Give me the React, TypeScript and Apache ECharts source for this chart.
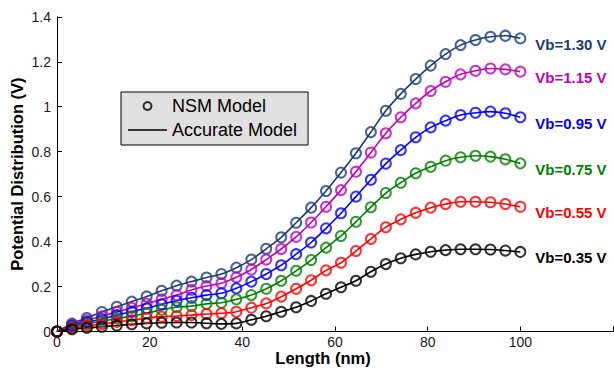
import React, { useEffect, useRef } from "react";
import * as echarts from "echarts";

const lengthNm = [
  0, 3.23, 6.45, 9.68, 12.9, 16.13, 19.35, 22.58, 25.81, 29.03, 32.26, 35.48,
  38.71, 41.94, 45.16, 48.39, 51.61, 54.84, 58.06, 61.29, 64.52, 67.74, 70.97,
  74.19, 77.42, 80.65, 83.87, 87.1, 90.32, 93.55, 96.77, 100,
];

const vb130 = [
  0, 0.035, 0.06, 0.087, 0.11, 0.133, 0.156, 0.181, 0.204, 0.222, 0.24, 0.256,
  0.284, 0.32, 0.368, 0.419, 0.484, 0.551, 0.625, 0.707, 0.793, 0.887, 0.982,
  1.057, 1.123, 1.183, 1.234, 1.274, 1.297, 1.311, 1.316, 1.304,
];
const vb115 = [
  0, 0.03, 0.05, 0.068, 0.088, 0.105, 0.124, 0.143, 0.162, 0.185, 0.202, 0.215,
  0.241, 0.276, 0.32, 0.367, 0.421, 0.485, 0.555, 0.629, 0.711, 0.796, 0.882,
  0.953, 1.015, 1.07, 1.111, 1.144, 1.16, 1.17, 1.166, 1.156,
];
const vb095 = [
  0, 0.025, 0.042, 0.055, 0.073, 0.088, 0.103, 0.121, 0.137, 0.15, 0.162, 0.17,
  0.192, 0.222, 0.256, 0.295, 0.344, 0.396, 0.459, 0.526, 0.6, 0.675, 0.747,
  0.807, 0.864, 0.908, 0.938, 0.963, 0.973, 0.978, 0.971, 0.953,
];
const vb075 = [
  0, 0.02, 0.034, 0.045, 0.058, 0.068, 0.081, 0.097, 0.108, 0.113, 0.123, 0.128,
  0.143, 0.162, 0.19, 0.226, 0.27, 0.318, 0.373, 0.425, 0.488, 0.553, 0.616,
  0.662, 0.704, 0.733, 0.76, 0.775, 0.782, 0.778, 0.766, 0.748,
];
const vb055 = [
  0, 0.015, 0.025, 0.033, 0.043, 0.05, 0.06, 0.066, 0.069, 0.073, 0.078, 0.081,
  0.088, 0.106, 0.125, 0.155, 0.19, 0.228, 0.272, 0.306, 0.358, 0.412, 0.464,
  0.499, 0.528, 0.551, 0.567, 0.577, 0.577, 0.575, 0.567, 0.555,
];
const vb035 = [
  0, 0.01, 0.016, 0.021, 0.027, 0.032, 0.036, 0.039, 0.04, 0.04, 0.037, 0.034,
  0.036, 0.052, 0.068, 0.088, 0.108, 0.136, 0.168, 0.197, 0.226, 0.266, 0.3,
  0.326, 0.343, 0.355, 0.362, 0.366, 0.366, 0.365, 0.36, 0.354,
];

const curveLabels = ["Vb=1.30 V", "Vb=1.15 V", "Vb=0.95 V", "Vb=0.75 V", "Vb=0.55 V", "Vb=0.35 V"];
const curveValues = [vb130, vb115, vb095, vb075, vb055, vb035];
const curveColors = ["#1b3c78", "#bf00bf", "#0000ff", "#008000", "#ff0000", "#000000"];

const xTicks = [0, 20, 40, 60, 80, 100, 120];
const yTicks = [0, 0.2, 0.4, 0.6, 0.8, 1, 1.2, 1.4];

const FONT = "Liberation Sans, Arial, sans-serif";

export default function App() {
  const ref = useRef<HTMLDivElement>(null);
  useEffect(() => {
    if (!ref.current) return;
    const chart = echarts.init(ref.current, undefined, { renderer: "svg" });
    const series: any[] = [];
    curveValues.forEach((vals, i) => {
      const data = lengthNm.map((x, k) => [x, vals[k]]);
      series.push({
        name: "acc" + i,
        type: "line",
        data,
        smooth: 0.3,
        symbol: "none",
        lineStyle: { color: curveColors[i], width: 1.6 },
        z: 2,
        endLabel: {
          show: true,
          formatter: curveLabels[i],
          color: curveColors[i],
          fontFamily: FONT,
          fontWeight: "bold",
          fontSize: 15,
          distance: 15,
          offset: [0, 6],
        },
      });
      series.push({
        name: "nsm" + i,
        type: "scatter",
        data,
        symbol: "circle",
        symbolSize: 10,
        itemStyle: { color: "rgba(0,0,0,0)", borderColor: curveColors[i], borderWidth: 2 },
        z: 3,
      });
    });
    series.push({
      name: "NSM Model",
      type: "scatter",
      data: [],
      symbol: "circle",
      itemStyle: { color: "rgba(0,0,0,0)", borderColor: "#000", borderWidth: 2 },
    });
    series.push({
      name: "Accurate Model",
      type: "line",
      data: [],
      symbol: "none",
      lineStyle: { color: "#000", width: 1.5 },
      itemStyle: { color: "#000" },
    });

    chart.setOption({
      animation: false,
      backgroundColor: "#fff",
      textStyle: { fontFamily: FONT },
      grid: { left: 57, right: 1, top: 16.8, bottom: 37.5, containLabel: false, outerBoundsMode: "none" },
      legend: {
        data: [
          { name: "NSM Model", itemStyle: { color: "rgba(0,0,0,0)", borderColor: "#000", borderWidth: 2 } },
          {
            name: "Accurate Model",
            icon: "path://M0,0L26,0L26,1L0,1Z",
            itemStyle: { color: "#000", borderWidth: 0 },
          },
        ],
        orient: "vertical",
        left: 121,
        top: 92,
        itemWidth: 39,
        itemHeight: 8,
        itemGap: 4,
        padding: [4, 11, 5, 7],
        backgroundColor: "#e0e0e0",
        borderColor: "#000",
        borderWidth: 1,
        borderRadius: 0,
        selectedMode: false,
        textStyle: { fontFamily: FONT, fontSize: 18, color: "#000", lineHeight: 20 },
      },
      xAxis: {
        type: "value",
        min: xTicks[0],
        max: xTicks[xTicks.length - 1],
        interval: 20,
        name: "Length (nm)",
        nameLocation: "middle",
        nameGap: 17.5,
        nameMoveOverlap: false,
        nameTextStyle: { fontFamily: FONT, fontWeight: "bold", fontSize: 16.5, color: "#000", padding: [0, 24, 0, 0] },
        axisLine: { show: true, lineStyle: { color: "#000", width: 1 } },
        axisTick: { show: true, inside: true, length: 5, lineStyle: { color: "#000" } },
        axisLabel: {
          fontFamily: FONT,
          fontSize: 14,
          lineHeight: 14,
          color: "#1a1a1a",
          margin: 3,
          formatter: (v: number) => (v === 120 ? "" : String(v)),
        },
        splitLine: { show: false },
      },
      yAxis: {
        type: "value",
        min: yTicks[0],
        max: yTicks[yTicks.length - 1],
        interval: 0.2,
        name: "Potential Distribution (V)",
        nameLocation: "middle",
        nameGap: 32,
        nameMoveOverlap: false,
        nameTextStyle: { fontFamily: FONT, fontWeight: "bold", fontSize: 16.5, color: "#000" },
        axisLine: { show: true, lineStyle: { color: "#000", width: 1 } },
        axisTick: { show: true, inside: true, length: 5, lineStyle: { color: "#000" } },
        axisLabel: { fontFamily: FONT, fontSize: 14, color: "#1a1a1a", margin: 6 },
        splitLine: { show: false },
      },
      series,
    });
    return () => chart.dispose();
  }, []);
  return (
    <div
      ref={ref}
      style={{ position: "fixed", left: 0, top: 0, width: 614, height: 369, background: "#fff" }}
    />
  );
}
